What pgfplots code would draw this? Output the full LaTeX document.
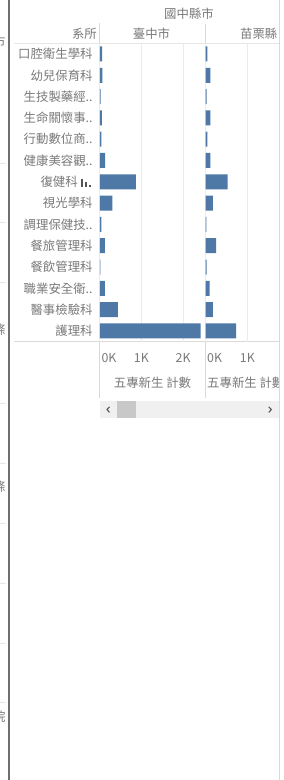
\documentclass[border=0pt]{standalone}
\usepackage{pgfplots}
\pgfplotsset{compat=1.18}
\usepackage{fontspec}
\setmainfont{Noto Sans CJK TC}
\definecolor{barc}{HTML}{4E79A7}
\definecolor{txt}{HTML}{7A7A7A}
\definecolor{gridc}{HTML}{EBEBEB}
\definecolor{linec}{HTML}{D9D9D9}
\definecolor{darkl}{HTML}{6E6E6E}
\definecolor{faint}{HTML}{E6E6E6}
\definecolor{track}{HTML}{F0F0F0}
\definecolor{thumb}{HTML}{C8C8C8}
\definecolor{icon}{HTML}{555555}
\newcommand\lbl{\fontsize{12.4}{14}\selectfont}
\pgfplotsset{
  panel/.style={
    anchor=north west, scale only axis, height=298.3pt,
    xmin=0, ymin=-0.5, ymax=13.5,
    xbar, bar width=15pt,
    axis line style={draw=none}, major tick length=0pt, tick style={draw=none},
    xmajorgrids, grid style={draw=gridc, line width=0.6pt},
    scaled x ticks=false,
    xticklabel style={anchor=center, yshift=-16.4pt, inner sep=0pt, font=\lbl, text=txt},
    yticklabel style={anchor=east, inner sep=0pt, xshift=-7pt, font=\lbl, text=txt},
    ytick={0,...,13},
  }
}
\begin{document}
\begin{tikzpicture}
\path[use as bounding box, fill=white] (0,0) rectangle (284pt,780pt);
\begin{scope}[x=1pt,y=-1pt,yshift=780pt]
  % frame lines
  \fill[darkl] (8,0) rectangle (9.6,780);
  \draw[linec, line width=0.8pt] (279,0) -- (279,780);
  \foreach \yy in {163,222,282,403,463,523,583,643,702}{\draw[faint, line width=0.6pt] (0,\yy) -- (6,\yy);}
  \draw[faint, line width=0.7pt] (14,43.3) -- (279,43.3);
  \draw[linec, line width=0.7pt] (14,341.8) -- (279,341.8);
  \draw[linec, line width=0.7pt] (99.8,23) -- (99.8,398);
  \draw[linec, line width=0.7pt] (205.7,24) -- (205.7,398);
  % scroll bar
  \fill[track] (100,401) rectangle (279,418);
  \fill[thumb] (117,401) rectangle (136,418);
  \draw[icon, line width=1.1pt] (109.5,406.8) -- (107,409.6) -- (109.5,412.4);
  \draw[icon, line width=1.1pt] (268.8,406.8) -- (271.3,409.6) -- (268.8,412.4);
  % cut-off row labels at far left (clipped in the reference too)
  \begin{scope}
    \clip (0,0) rectangle (6.6,780);
    \foreach \yy/\ch in {42/市,330/條,487/條,717/院}{\node[anchor=east, inner sep=0pt, font=\lbl, text=txt] at (5.8,\yy) {\ch};}
  \end{scope}
\end{scope}

\begin{axis}[panel, at={(99.8pt,736.7pt)}, width=105.9pt, xmax=2543,
  xtick={0,1000,2000},
  xticklabels={\makebox[0pt][l]{\hspace{1.8pt}0K},\mbox{1K},\mbox{2K}},
  yticklabels={護理科,醫事檢驗科,職業安全衛..,餐飲管理科,餐旅管理科,調理保健技..,視光學科,{復健科\hspace*{14.8pt}},健康美容觀..,行動數位商..,生命關懷事..,生技製藥經..,幼兒保育科,口腔衛生學科},
]
\addplot[fill=barc, draw=none] coordinates {
 (2420,0) (432,1) (120,2) (15,3) (120,4) (40,5) (304,6) (864,7) (130,8) (40,9) (50,10) (20,11) (60,12) (55,13)};
\end{axis}

\begin{axis}[panel, at={(205.7pt,736.7pt)}, width=73.3pt, xmax=1760,
  xtick={0,1000},
  xticklabels={\makebox[0pt][l]{\hspace{1.5pt}0K},\mbox{1K}},
  yticklabels={},
]
\addplot[fill=barc, draw=none] coordinates {
 (728,0) (170,1) (95,2) (20,3) (248,4) (15,5) (170,6) (528,7) (110,8) (40,9) (110,10) (20,11) (110,12) (40,13)};
\end{axis}

\begin{scope}[x=1pt,y=-1pt,yshift=780pt]
  \fill[icon] (81,179.5) rectangle (83,187);
  \fill[icon] (85,182.5) rectangle (87,187);
  \fill[icon] (89,185.3) rectangle (90.8,187);
  \begin{scope}[every node/.style={font=\lbl, text=txt, inner sep=0pt}]
    \node at (189,14) {國中縣市};
    \node[anchor=east] at (97,34) {系所};
    \node at (151.5,34) {臺中市};
    \node[anchor=east] at (277.5,34) {苗栗縣};
    \node at (152.5,383) {五專新生 計數};
    \begin{scope}
      \clip (206.5,370) rectangle (278.5,398);
      \node[anchor=west] at (207,383) {五專新生 計數};
    \end{scope}
  \end{scope}
\end{scope}
\end{tikzpicture}
\end{document}
